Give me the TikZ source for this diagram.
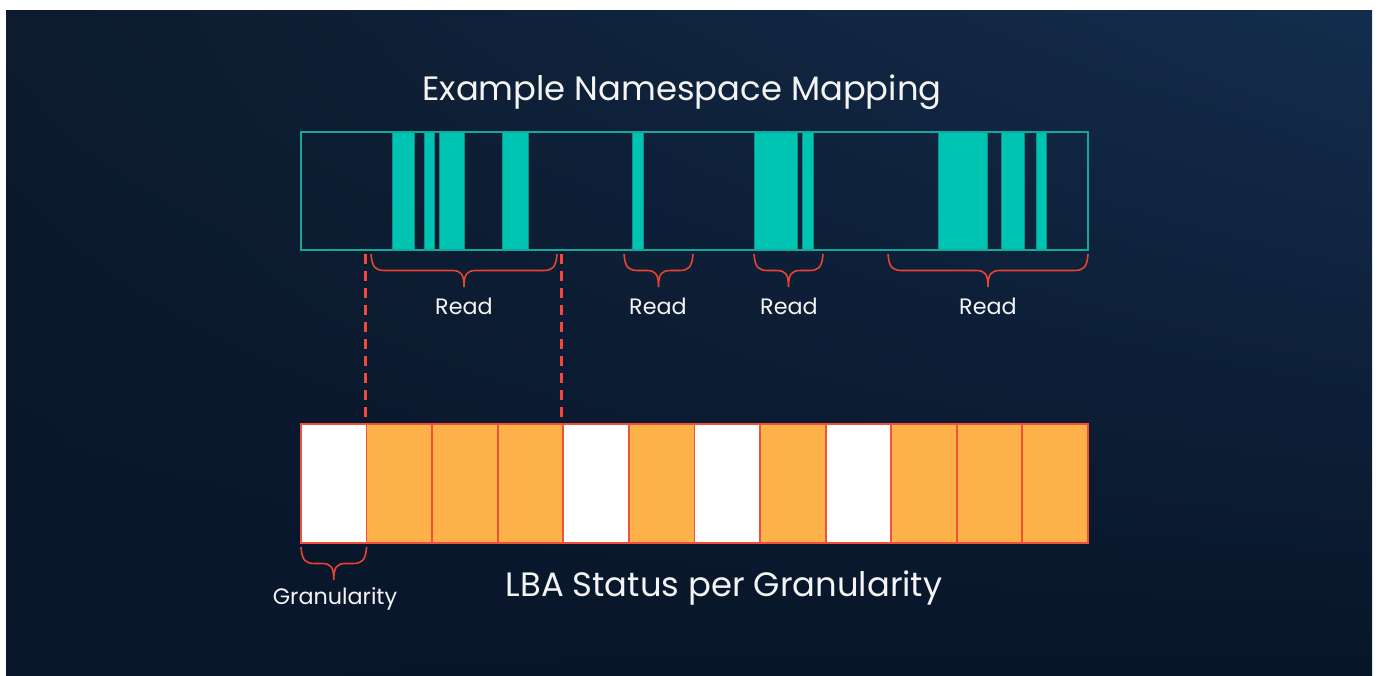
\documentclass[tikz,border=0pt]{standalone}
\usepackage{fontspec}
\setmainfont{Poppins}
\usetikzlibrary{calc,shadings}

\definecolor{bgUL}{HTML}{0C1B2D}
\definecolor{bgUR}{HTML}{142D4E}
\definecolor{bgLL}{HTML}{08152A}
\definecolor{bgLR}{HTML}{081528}
\definecolor{nsfill}{HTML}{00C4B2}
\definecolor{nsedge}{HTML}{12A89B}
\definecolor{nsbar}{HTML}{0C8F85}
\definecolor{lbaorange}{HTML}{FDB249}
\definecolor{lbared}{HTML}{F2503B}
\definecolor{dashred}{HTML}{F5473A}
\definecolor{bracered}{HTML}{E8432F}
\definecolor{labelwhite}{HTML}{F4F4F4}

\tikzset{
  nsbox/.style={draw=nsedge, line width=2pt, inner sep=0pt, outer sep=0pt,
    minimum width=787pt, minimum height=118pt, anchor=north west},
  lbacell/.style={draw=lbared, line width=1.8pt, inner sep=0pt, outer sep=0pt,
    minimum width=65.58pt, minimum height=119pt, anchor=north west},
  freecell/.style={lbacell, fill=white},
  usedcell/.style={lbacell, fill=lbaorange},
  datarun/.style={fill=nsfill, draw=nsbar, line width=0.8pt},
  dashline/.style={draw=dashred, line width=3pt, dash pattern=on 10pt off 7pt},
  bracepath/.style={draw=bracered, line width=1.6pt},
  title/.style={text=labelwhite, font=\fontsize{33.8}{33.8}\selectfont, inner sep=0pt},
  small/.style={text=labelwhite, font=\fontsize{22.3}{22.3}\selectfont, inner sep=0pt}
}

% curly brace hanging below the segment from #1 to #2
\newcommand\curly[2]{%
  \path[bracepath] let \p1=(#1), \p2=(#2), \p3=($(#1)!0.5!(#2)$) in
    (\p1) .. controls (\x1+1pt,\y1-14pt) and (\x1+5pt,\y1-16.5pt) .. (\x1+14pt,\y1-16.5pt)
    -- (\x3-12pt,\y1-16.5pt)
    .. controls (\x3-3pt,\y1-16.5pt) and (\x3,\y1-20pt) .. (\x3,\y1-33pt)
    .. controls (\x3,\y1-20pt) and (\x3+3pt,\y1-16.5pt) .. (\x3+12pt,\y1-16.5pt)
    -- (\x2-14pt,\y1-16.5pt)
    .. controls (\x2-5pt,\y1-16.5pt) and (\x2-1pt,\y1-14pt) .. (\p2);%
}

\begin{document}
\begin{tikzpicture}[x=1pt,y=-1pt]
\useasboundingbox (0,0) rectangle (1379,675);
\fill[white] (0,0) rectangle (1379,675);
\shade[upper left=bgUL, upper right=bgUR, lower left=bgLL, lower right=bgLR]
  (6,10) rectangle (1372,675);

% namespace: written runs
\foreach \a/\b in {392/414, 424/434, 439/464, 502/528, 632/643,
                   754/797, 802/813, 938/987, 1001/1024, 1036/1046}
  \path[datarun] (\a,132) rectangle (\b,250);
\node[nsbox] (ns) at (301,132) {};

\node[title] (nstitle) at (682,92) {Example Namespace Mapping};

% LBA status cells
\foreach \i/\kind in {1/freecell, 2/usedcell, 3/usedcell, 4/usedcell,
                      5/freecell, 6/usedcell, 7/freecell, 8/usedcell,
                      9/freecell, 10/usedcell, 11/usedcell, 12/usedcell}
  \node[\kind] (c\i) at ({301+(\i-1)*65.58},424) {};

\node[title] (lbatitle) at (724,588) {LBA Status per Granularity};

% projection of the first read onto the cells
\coordinate (p1) at ([yshift=-4pt,xshift=-1.5pt] ns.south -| c2.north west);
\coordinate (p2) at ([yshift=-4pt,xshift=-1.5pt] ns.south -| c5.north west);
\path[dashline] (p1) -- (p1 |- c2.north);
\path[dashline] (p2) -- (p2 |- c5.north);

% read ranges
\coordinate (r1a) at (371,254);  \coordinate (r1b) at (557,254);
\coordinate (r2a) at (624,254);  \coordinate (r2b) at (693,254);
\coordinate (r3a) at (754,254);  \coordinate (r3b) at (823,254);
\coordinate (r4a) at (888,254);  \coordinate (r4b) at (1088,254);
\curly{r1a}{r1b}
\curly{r2a}{r2b}
\curly{r3a}{r3b}
\curly{r4a}{r4b}
\node[small] (read1) at (464,306) {Read};
\node[small] (read2) at (658,306) {Read};
\node[small] (read3) at (789,306) {Read};
\node[small] (read4) at (988,306) {Read};

% granularity
\coordinate (g1) at ([yshift=-4pt] c1.south west);
\coordinate (g2) at ([yshift=-4pt] c1.south east);
\curly{g1}{g2}
\node[small] (gran) at (335,599) {Granularity};
\end{tikzpicture}
\end{document}
